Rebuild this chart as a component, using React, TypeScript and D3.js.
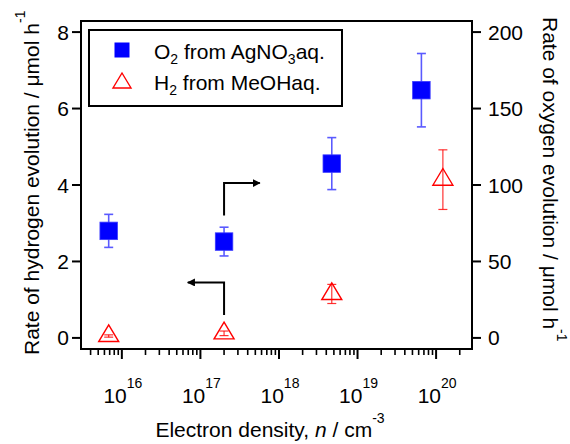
import React from "react";
import * as d3 from "d3";

// electron density (cm^-3) of each sample
const o2Density = [6.8e15, 2.0e17, 4.7e18, 6.5e19];
const h2Density = [6.8e15, 2.0e17, 4.7e18, 1.22e20];
// O2 evolution, right axis (umol/h)
const o2Rate = [70, 63, 114, 162];
const o2Err = [10.8, 9.4, 17, 24];
// H2 evolution, left axis (umol/h)
const h2Rate = [0.05, 0.12, 1.15, 4.14];
const h2Err = [0.03, 0.06, 0.25, 0.78];

const leftTicks = [0, 2, 4, 6, 8];
const rightTicks = [0, 50, 100, 150, 200];
const decades = [16, 17, 18, 19, 20];

const FONT = "'Liberation Sans', Arial, sans-serif";

const App = () => {
  const width = 570;
  const height = 444;
  const box = { left: 81, right: 472, top: 21, bottom: 349 };

  const x = d3
    .scaleLog()
    .domain([Math.pow(10, 15.48), Math.pow(10, 20.457)])
    .range([box.left, box.right]);
  const yL = d3.scaleLinear().domain([-0.29, 8.29]).range([box.bottom, box.top]);
  const yR = d3.scaleLinear().domain([-7.25, 207.25]).range([box.bottom, box.top]);

  // minor ticks of the log axis
  const minor: number[] = [];
  for (let d = 15; d <= 20; d++) {
    for (let m = 2; m <= 9; m++) {
      const v = m * Math.pow(10, d);
      const [lo, hi] = x.domain();
      if (v > lo && v < hi) minor.push(v);
    }
  }

  const blueBar = "#5a5aff";
  const red = "#ff0000";
  const sq = 17.5;

  const tri = (cx: number, cy: number, w: number, h: number) =>
    `M${cx},${cy - (2 * h) / 3} L${cx + w / 2},${cy + h / 3} L${cx - w / 2},${cy + h / 3} Z`;

  // arrows (data coordinates)
  const arrowX = 2.0e17;
  const a1 = { y0: 3.2, y1: 4.05, x1: 5.7e17 };
  const a2 = { y0: 0.6, y1: 1.45, x1: 6.9e16 };

  return (
    <svg
      width={width}
      height={height}
      style={{ position: "absolute", left: 0, top: 0, background: "#fff" }}
      fontFamily={FONT}
    >
      <defs>
        <marker id="ah" viewBox="0 0 10 10" refX="9" refY="5" markerWidth="4" markerHeight="4" orient="auto">
          <path d="M0,0 L10,5 L0,10 Z" fill="#000" />
        </marker>
      </defs>

      {/* frame */}
      <rect
        x={box.left}
        y={box.top}
        width={box.right - box.left}
        height={box.bottom - box.top}
        fill="none"
        stroke="#000"
        strokeWidth={2}
      />

      {/* left axis */}
      {leftTicks.map((t) => (
        <g key={"l" + t}>
          <line x1={box.left - 9} x2={box.left} y1={yL(t)} y2={yL(t)} stroke="#000" strokeWidth={2} />
          <text x={69} y={yL(t) + 7.5} fontSize={21} textAnchor="end">
            {t}
          </text>
        </g>
      ))}

      {/* right axis */}
      {rightTicks.map((t) => (
        <g key={"r" + t}>
          <line x1={box.right} x2={box.right + 9} y1={yR(t)} y2={yR(t)} stroke="#000" strokeWidth={2} />
          <text x={488} y={yR(t) + 7.5} fontSize={21} textAnchor="start">
            {t}
          </text>
        </g>
      ))}

      {/* bottom axis */}
      {minor.map((v, i) => (
        <line key={"m" + i} x1={x(v)} x2={x(v)} y1={box.bottom} y2={box.bottom + 6} stroke="#000" strokeWidth={1.6} />
      ))}
      {decades.map((d) => (
        <g key={"d" + d}>
          <line
            x1={x(Math.pow(10, d))}
            x2={x(Math.pow(10, d))}
            y1={box.bottom}
            y2={box.bottom + 10}
            stroke="#000"
            strokeWidth={2}
          />
          <text x={x(Math.pow(10, d)) + 1} y={403} fontSize={21} textAnchor="middle">
            10
            <tspan fontSize={14} dy={-15}>
              {d}
            </tspan>
          </text>
        </g>
      ))}

      {/* axis titles */}
      <text x={270} y={437} fontSize={21} textAnchor="middle">
        Electron density, <tspan fontStyle="italic">n</tspan> / cm
        <tspan fontSize={14} dy={-14}>
          -3
        </tspan>
      </text>
      <text transform="translate(39,355) rotate(-90)" fontSize={21} textAnchor="start">
        Rate of hydrogen evolution / μmol h
        <tspan fontSize={14} dy={-14}>
          -1
        </tspan>
      </text>
      <text transform="translate(543,17) rotate(90)" fontSize={21} textAnchor="start">
        Rate of oxygen evolution / μmol h
        <tspan fontSize={14} dy={-14}>
          -1
        </tspan>
      </text>

      {/* arrows */}
      <path
        d={`M${x(arrowX)},${yL(a1.y0)} V${yL(a1.y1)} H${x(a1.x1)}`}
        fill="none"
        stroke="#000"
        strokeWidth={2}
        markerEnd="url(#ah)"
      />
      <path
        d={`M${x(arrowX)},${yL(a2.y0)} V${yL(a2.y1)} H${x(a2.x1)}`}
        fill="none"
        stroke="#000"
        strokeWidth={2}
        markerEnd="url(#ah)"
      />

      {/* O2 series */}
      {o2Density.map((d, i) => {
        const cx = x(d);
        const top = yR(o2Rate[i] + o2Err[i]);
        const bot = yR(o2Rate[i] - o2Err[i]);
        return (
          <g key={"o" + i}>
            <line x1={cx} x2={cx} y1={top} y2={bot} stroke={blueBar} strokeWidth={1.6} />
            <line x1={cx - 4.5} x2={cx + 4.5} y1={top} y2={top} stroke={blueBar} strokeWidth={1.6} />
            <line x1={cx - 4.5} x2={cx + 4.5} y1={bot} y2={bot} stroke={blueBar} strokeWidth={1.6} />
            <rect
              x={cx - sq / 2}
              y={yR(o2Rate[i]) - sq / 2}
              width={sq}
              height={sq}
              fill="#0000ff"
              stroke="#3a3aff"
              strokeWidth={0.8}
            />
          </g>
        );
      })}

      {/* H2 series */}
      {h2Density.map((d, i) => {
        const cx = x(d);
        const cy = yL(h2Rate[i]);
        const top = yL(h2Rate[i] + h2Err[i]);
        const bot = yL(h2Rate[i] - h2Err[i]);
        return (
          <g key={"h" + i}>
            <line x1={cx} x2={cx} y1={top} y2={bot} stroke={red} strokeWidth={1.2} opacity={0.8} />
            <line x1={cx - 4.5} x2={cx + 4.5} y1={top} y2={top} stroke={red} strokeWidth={1.2} opacity={0.8} />
            <line x1={cx - 4.5} x2={cx + 4.5} y1={bot} y2={bot} stroke={red} strokeWidth={1.2} opacity={0.8} />
            <path d={tri(cx, cy, 20, 16.7)} fill="none" stroke={red} strokeWidth={1.4} />
          </g>
        );
      })}

      {/* legend */}
      <rect x={89} y={30} width={253} height={76} fill="#fff" stroke="#000" strokeWidth={2} />
      <rect x={122 - 7.5} y={50 - 7.5} width={15} height={15} fill="#0000ff" />
      <path d={tri(122, 83, 18, 15)} fill="none" stroke={red} strokeWidth={1.4} />
      <text x={154} y={59} fontSize={21}>
        O
        <tspan fontSize={14} dy={5}>
          2
        </tspan>
        <tspan dy={-5}> from AgNO</tspan>
        <tspan fontSize={14} dy={5}>
          3
        </tspan>
        <tspan dy={-5}>aq.</tspan>
      </text>
      <text x={154} y={90} fontSize={21}>
        H
        <tspan fontSize={14} dy={5}>
          2
        </tspan>
        <tspan dy={-5}> from MeOHaq.</tspan>
      </text>
    </svg>
  );
};

export default App;
